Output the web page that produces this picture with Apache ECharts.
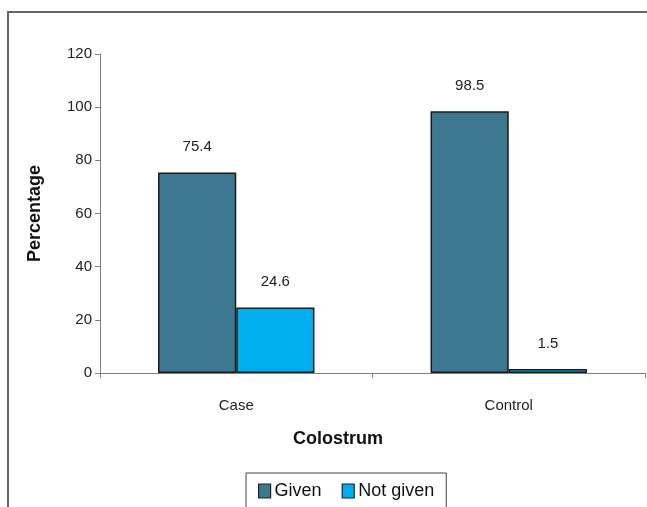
<!DOCTYPE html>
<html>
<head>
<meta charset="utf-8">
<script src="https://cdn.jsdelivr.net/npm/echarts@6/dist/echarts.min.js"></script>
<style>
  html, body { margin: 0; padding: 0; background: #fff; }
  #chart { width: 647px; height: 507px; }
</style>
</head>
<body>
<div id="chart"></div>
<script>
var categories = ['Case', 'Control'];
var givenData = [75.4, 98.5];
var notGivenData = [24.6, 1.5];
var yTicks = { min: 0, max: 120, step: 20 };

var font = '"Liberation Sans Narrow", "Liberation Sans", Arial, sans-serif';
var boldFont = '"Liberation Sans", Arial, sans-serif';

var myChart = echarts.init(document.getElementById('chart'));

var option = {
	backgroundColor: '#fff',
	animation: false,
	color: ['#3d7891', '#00aeef'],
	graphic: [{
		type: 'rect',
		shape: { x: 8, y: 12, width: 700, height: 600 },
		style: { fill: 'none', stroke: '#666', lineWidth: 2 },
		silent: true
	}],
	title: [{
		text: 'Colostrum',
		left: 293,
		top: 430,
		padding: 0,
		textStyle: { fontFamily: boldFont, fontSize: 18, fontWeight: 'bold', color: '#111' }
	}],
	legend: {
		left: 246,
		top: 473,
		padding: [9, 12, 12, 12],
		borderColor: '#444',
		borderWidth: 1,
		itemGap: 20,
		itemWidth: 12,
		itemHeight: 14,
		icon: 'rect',
		itemStyle: { borderColor: '#222', borderWidth: 1.2 },
		textStyle: { fontFamily: font, fontSize: 18, color: '#111', padding: [0, 0, 0, -1] },
		data: ['Given', 'Not given']
	},
	grid: {
		left: 100,
		right: 2,
		top: 54,
		bottom: 134
	},
	xAxis: {
		type: 'category',
		data: categories,
		axisLine: { lineStyle: { color: '#808080', width: 1 } },
		axisTick: { show: true, length: 5, lineStyle: { color: '#808080' } },
		axisLabel: { fontFamily: font, fontSize: 15, color: '#222', margin: 25 }
	},
	yAxis: {
		type: 'value',
		min: yTicks.min,
		max: yTicks.max,
		interval: yTicks.step,
		name: 'Percentage',
		nameLocation: 'middle',
		nameGap: 56,
		nameRotate: 90,
		nameTextStyle: { fontFamily: boldFont, fontSize: 18, fontWeight: 'bold', color: '#111' },
		axisLine: { show: true, lineStyle: { color: '#808080', width: 1 } },
		axisTick: { show: true, length: 5, lineStyle: { color: '#808080' } },
		axisLabel: { fontFamily: font, fontSize: 15, color: '#222', margin: 8 },
		splitLine: { show: false }
	},
	series: [{
		name: 'Given',
		type: 'bar',
		data: givenData,
		barGap: '0%',
		barCategoryGap: '42.6%',
		itemStyle: { borderColor: '#1a1a1a', borderWidth: 1.5 },
		label: { show: true, position: 'top', distance: 18, fontFamily: font, fontSize: 15, color: '#222' }
	}, {
		name: 'Not given',
		type: 'bar',
		data: notGivenData,
		barGap: '0%',
		barCategoryGap: '42.6%',
		itemStyle: { borderColor: '#1a1a1a', borderWidth: 1.5 },
		label: { show: true, position: 'top', distance: 18, fontFamily: font, fontSize: 15, color: '#222' }
	}]
};

myChart.setOption(option);

window.addEventListener('resize', function() {
	myChart.resize();
});
</script>
</body>
</html>
